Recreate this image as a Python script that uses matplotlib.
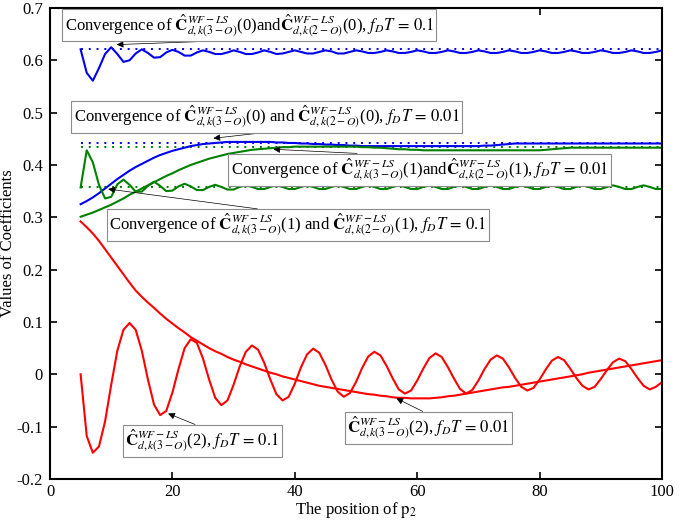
import numpy as np
import matplotlib
matplotlib.use('Agg')
import matplotlib.pyplot as plt

plt.rcParams['font.family'] = ['Liberation Serif', 'DejaVu Serif']
plt.rcParams['mathtext.fontset'] = 'stix'
plt.rcParams['font.size'] = 12

# p2 positions
x = list(range(5, 101))

# coefficient 0, fD*T = 0.1
blue_fast = [0.621, 0.576, 0.561, 0.585, 0.612, 0.625, 0.612, 0.597, 0.600, 0.613,
             0.621, 0.614, 0.605, 0.606, 0.615, 0.620, 0.616, 0.609, 0.609, 0.615,
             0.619, 0.616, 0.612, 0.612, 0.615, 0.619, 0.616, 0.612, 0.612, 0.615,
             0.619, 0.616, 0.612, 0.613, 0.616, 0.619, 0.616, 0.613, 0.613, 0.616,
             0.619, 0.617, 0.613, 0.613, 0.616, 0.619, 0.617, 0.614, 0.614, 0.616,
             0.619, 0.617, 0.614, 0.614, 0.616, 0.619, 0.617, 0.614, 0.614, 0.616,
             0.619, 0.617, 0.614, 0.614, 0.616, 0.619, 0.617, 0.614, 0.614, 0.616,
             0.619, 0.617, 0.614, 0.614, 0.616, 0.619, 0.617, 0.614, 0.614, 0.616,
             0.619, 0.617, 0.614, 0.614, 0.616, 0.619, 0.617, 0.614, 0.614, 0.616,
             0.619, 0.617, 0.614, 0.614, 0.616, 0.619]
# coefficient 0, fD*T = 0.01
blue_slow = [0.325, 0.331, 0.338, 0.346, 0.355, 0.364, 0.373, 0.381, 0.389, 0.396,
             0.402, 0.408, 0.414, 0.419, 0.423, 0.427, 0.430, 0.433, 0.436, 0.438,
             0.440, 0.441, 0.442, 0.443, 0.444, 0.444, 0.444, 0.444, 0.444, 0.444,
             0.444, 0.444, 0.443, 0.443, 0.442, 0.442, 0.441, 0.441, 0.440, 0.440,
             0.439, 0.439, 0.438, 0.438, 0.437, 0.437, 0.436, 0.436, 0.436, 0.436,
             0.436, 0.436, 0.436, 0.436, 0.436, 0.436, 0.436, 0.436, 0.436, 0.436,
             0.436, 0.436, 0.436, 0.436, 0.436, 0.436, 0.437, 0.437, 0.438, 0.439,
             0.440, 0.441, 0.441, 0.441, 0.441, 0.441, 0.441, 0.441, 0.441, 0.441,
             0.441, 0.441, 0.441, 0.441, 0.441, 0.441, 0.441, 0.441, 0.441, 0.441,
             0.441, 0.441, 0.441, 0.441, 0.441, 0.441]
# coefficient 1, fD*T = 0.1
green_fast = [0.357, 0.428, 0.405, 0.362, 0.336, 0.339, 0.363, 0.372, 0.362, 0.349,
              0.349, 0.360, 0.368, 0.360, 0.350, 0.351, 0.359, 0.364, 0.359, 0.352,
              0.352, 0.358, 0.362, 0.358, 0.353, 0.353, 0.358, 0.361, 0.358, 0.354,
              0.354, 0.358, 0.361, 0.358, 0.354, 0.354, 0.358, 0.361, 0.358, 0.354,
              0.354, 0.358, 0.361, 0.358, 0.354, 0.354, 0.358, 0.361, 0.358, 0.354,
              0.354, 0.358, 0.361, 0.358, 0.354, 0.354, 0.358, 0.361, 0.358, 0.354,
              0.354, 0.358, 0.361, 0.358, 0.354, 0.354, 0.358, 0.361, 0.358, 0.354,
              0.354, 0.358, 0.361, 0.358, 0.354, 0.354, 0.358, 0.361, 0.358, 0.354,
              0.354, 0.358, 0.361, 0.358, 0.354, 0.354, 0.358, 0.361, 0.358, 0.354,
              0.354, 0.358, 0.361, 0.358, 0.354, 0.354]
# coefficient 1, fD*T = 0.01
green_slow = [0.301, 0.305, 0.309, 0.314, 0.319, 0.324, 0.330, 0.336, 0.343, 0.349,
              0.355, 0.361, 0.367, 0.373, 0.379, 0.384, 0.390, 0.395, 0.400, 0.404,
              0.408, 0.412, 0.415, 0.418, 0.421, 0.423, 0.425, 0.427, 0.429, 0.430,
              0.431, 0.432, 0.433, 0.434, 0.434, 0.435, 0.435, 0.435, 0.435, 0.435,
              0.435, 0.435, 0.435, 0.435, 0.435, 0.435, 0.434, 0.434, 0.433, 0.433,
              0.432, 0.431, 0.430, 0.430, 0.429, 0.429, 0.428, 0.428, 0.428, 0.428,
              0.428, 0.428, 0.428, 0.428, 0.428, 0.428, 0.428, 0.428, 0.428, 0.428,
              0.428, 0.428, 0.428, 0.428, 0.428, 0.428, 0.429, 0.430, 0.431, 0.432,
              0.433, 0.433, 0.433, 0.433, 0.433, 0.433, 0.433, 0.433, 0.433, 0.433,
              0.433, 0.433, 0.433, 0.433, 0.433, 0.433]
# coefficient 2, fD*T = 0.1
red_fast = [0.000, -0.118, -0.150, -0.138, -0.090, -0.020, 0.045, 0.085, 0.098, 0.085,
            0.045, -0.010, -0.058, -0.078, -0.070, -0.035, 0.010, 0.050, 0.067, 0.060,
            0.030, -0.010, -0.045, -0.059, -0.050, -0.020, 0.015, 0.043, 0.055, 0.047,
            0.022, -0.010, -0.038, -0.050, -0.043, -0.018, 0.013, 0.038, 0.049, 0.041,
            0.018, -0.010, -0.033, -0.043, -0.036, -0.015, 0.012, 0.034, 0.043, 0.036,
            0.016, -0.008, -0.029, -0.037, -0.031, -0.012, 0.011, 0.031, 0.040, 0.033,
            0.014, -0.008, -0.028, -0.037, -0.030, -0.012, 0.010, 0.028, 0.036, 0.030,
            0.013, -0.007, -0.024, -0.031, -0.026, -0.010, 0.009, 0.026, 0.033, 0.027,
            0.011, -0.007, -0.022, -0.029, -0.024, -0.009, 0.008, 0.023, 0.030, 0.025,
            0.010, -0.007, -0.022, -0.029, -0.024, -0.015]
# coefficient 2, fD*T = 0.01
red_slow = [0.292, 0.281, 0.269, 0.255, 0.239, 0.223, 0.207, 0.191, 0.175, 0.160,
            0.148, 0.137, 0.127, 0.116, 0.106, 0.097, 0.088, 0.080, 0.071, 0.064,
            0.057, 0.050, 0.044, 0.039, 0.033, 0.028, 0.024, 0.019, 0.015, 0.011,
            0.007, 0.003, 0.000, -0.004, -0.007, -0.010, -0.013, -0.016, -0.019, -0.022,
            -0.024, -0.026, -0.028, -0.030, -0.032, -0.034, -0.036, -0.038, -0.039, -0.041,
            -0.042, -0.044, -0.045, -0.045, -0.046, -0.046, -0.046, -0.046, -0.045, -0.044,
            -0.042, -0.041, -0.039, -0.037, -0.035, -0.033, -0.031, -0.029, -0.027, -0.025,
            -0.024, -0.022, -0.020, -0.018, -0.016, -0.014, -0.012, -0.010, -0.008, -0.006,
            -0.004, -0.002, 0.000, 0.003, 0.005, 0.007, 0.009, 0.011, 0.013, 0.015,
            0.017, 0.019, 0.021, 0.023, 0.025, 0.027]

# theoretical convergence levels (dotted)
ref_levels = [0.621, 0.441, 0.434, 0.357]
ref_colors = ['#0000ee', '#0000ee', '#008000', '#008000']

BLUE = '#0000ee'
GREEN = '#008000'
RED = '#ff0000'

fig = plt.figure(figsize=(6.85, 5.24), dpi=100)
ax = fig.add_axes([0.073, 0.086, 0.8934, 0.8988])

for lvl, c in zip(ref_levels, ref_colors):
    ax.plot([x[0], x[-1]], [lvl, lvl], color=c, lw=1.4, linestyle=(0, (1, 3)))

ax.plot(x, blue_fast, color=BLUE, lw=1.5)
ax.plot(x, blue_slow, color=BLUE, lw=1.5)
ax.plot(x, green_fast, color=GREEN, lw=1.5)
ax.plot(x, green_slow, color=GREEN, lw=1.5)
ax.plot(x, red_fast, color=RED, lw=1.5)
ax.plot(x, red_slow, color=RED, lw=1.5)

ax.set_xlim(0, 100)
ax.set_ylim(-0.2, 0.7)
ax.set_xticks([0, 20, 40, 60, 80, 100])
ax.set_yticks([-0.2, -0.1, 0, 0.1, 0.2, 0.3, 0.4, 0.5, 0.6, 0.7])
ax.set_yticklabels(['-0.2', '-0.1', '0', '0.1', '0.2', '0.3', '0.4', '0.5', '0.6', '0.7'])
ax.tick_params(direction='in', top=True, right=True, length=5, width=1.2, labelsize=12)
ax.tick_params(axis='x', pad=4)
ax.tick_params(axis='y', pad=5)
for s in ax.spines.values():
    s.set_linewidth(1.5)
ax.set_xlabel(r'The position of $\mathrm{p_2}$', fontsize=12, labelpad=0)
ax.set_ylabel('Values of Coefficients', fontsize=12)
ax.yaxis.set_label_coords(-0.056, 0.5)

C3 = r'$\hat{\mathbf{C}}^{WF-LS}_{d,k(3-O)}$'
C2 = r'$\hat{\mathbf{C}}^{WF-LS}_{d,k(2-O)}$'
box = dict(boxstyle='square,pad=0.15', fc='white', ec='#8c8c8c', lw=0.8)

notes = [
    ('Convergence of ' + C3 + '(0)and' + C2 + r'(0), $f_D T\,=\,0.1$',
     (10.9, 0.630), (2.4, 0.667), (0.59, 0.0)),
    ('Convergence of ' + C3 + '(0) and ' + C2 + r'(0), $f_D T\,=\,0.01$',
     (26.7, 0.451), (3.9, 0.492), (0.55, 0.0)),
    ('Convergence of ' + C3 + '(1)and' + C2 + r'(1), $f_D T\,=\,0.01$',
     (36.5, 0.430), (29.5, 0.391), (0.49, 1.0)),
    ('Convergence of ' + C3 + '(1) and ' + C2 + r'(1), $f_D T\,=\,0.1$',
     (9.5, 0.354), (9.7, 0.285), (0.45, 1.0)),
    (C3 + r'(2), $f_D T\,=\,0.1$',
     (19.3, -0.075), (12.3, -0.127), (0.5, 1.0)),
    (C3 + r'(2), $f_D T\,=\,0.01$',
     (56.6, -0.046), (48.6, -0.102), (0.5, 1.0)),
]
for txt, tip, pos, rp in notes:
    ax.annotate(txt, xy=tip, xytext=pos, ha='left', va='center', fontsize=12,
                bbox=box,
                arrowprops=dict(arrowstyle='-|>', color='black', lw=0.5,
                                mutation_scale=10, shrinkA=0, shrinkB=0,
                                relpos=rp))

fig.savefig('out.png', dpi=100)
